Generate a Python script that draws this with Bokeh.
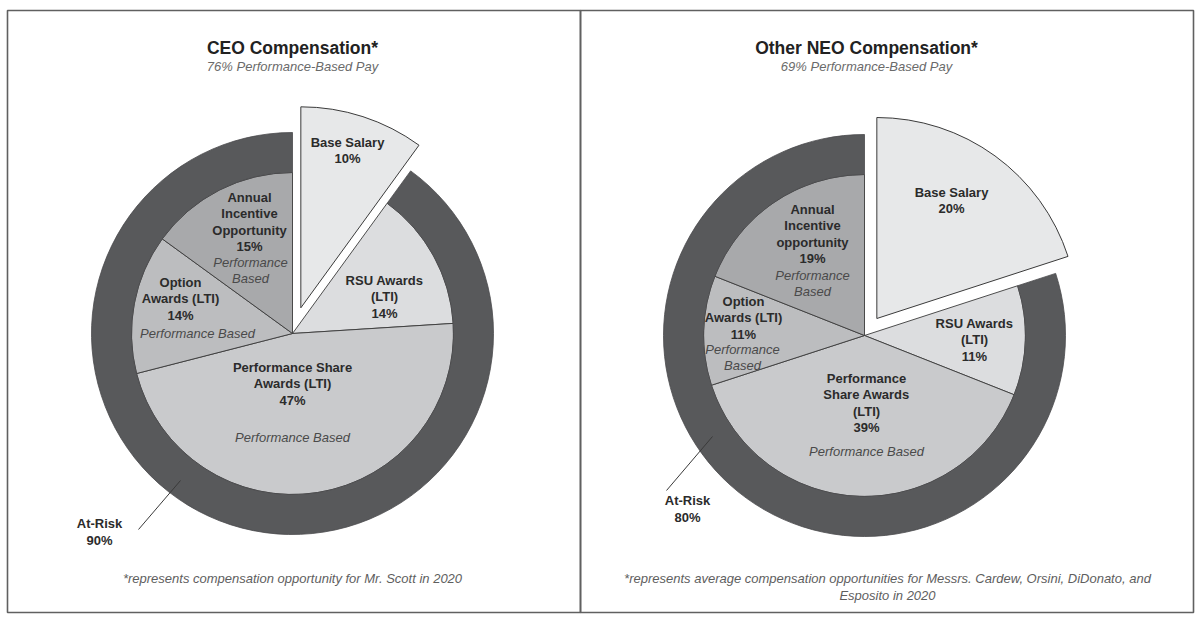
import math
from bokeh.plotting import figure
from bokeh.embed import file_html
from bokeh.resources import INLINE
from bokeh.core.properties import value
from bokeh.models import Range1d

# ---------------- data ----------------
segments = ["Base Salary", "RSU Awards (LTI)", "Performance Share Awards (LTI)",
            "Option Awards (LTI)", "Annual Incentive Opportunity"]
ceo_values = [10, 14, 47, 14, 15]
ceo_at_risk = 90
ceo_perf_based = 76
neo_values = [20, 11, 39, 11, 19]
neo_at_risk = 80
neo_perf_based = 69

ceo_title = "CEO Compensation*"
neo_title = "Other NEO Compensation*"
ceo_note = ["*represents compensation opportunity for Mr. Scott in 2020"]
neo_note = ["*represents average compensation opportunities for Messrs. Cardew, Orsini, DiDonato, and",
            "Esposito in 2020"]

ceo_label_lines = [["Base Salary"], ["RSU Awards", "(LTI)"], ["Performance Share", "Awards (LTI)"],
                   ["Option", "Awards (LTI)"], ["Annual", "Incentive", "Opportunity"]]
ceo_italic_lines = [[], [], ["Performance Based"], ["Performance Based"], ["Performance", "Based"]]
neo_label_lines = [["Base Salary"], ["RSU Awards", "(LTI)"], ["Performance", "Share Awards", "(LTI)"],
                   ["Option", "Awards (LTI)"], ["Annual", "Incentive", "opportunity"]]
neo_italic_lines = [[], [], ["Performance Based"], ["Performance", "Based"], ["Performance", "Based"]]

colors = ["#e7e8e9", "#dcdddf", "#c9cacc", "#bcbdbf", "#a8a9ab"]
ring_color = "#58595b"

# ---------------- layout ----------------
W, H = 1197, 617
FONT = "Liberation Sans"
def sy(y):  # screen y -> data y
    return H - y

p = figure(width=W, height=H, output_backend="svg", toolbar_location=None,
           x_range=Range1d(0, W), y_range=Range1d(0, H), min_border=0)
p.axis.visible = False
p.grid.visible = False
p.outline_line_color = None
p.background_fill_color = "white"
p.border_fill_color = "white"

# panel frames
p.quad(left=[7, 580], right=[580, 1193], top=[sy(10), sy(10)], bottom=[sy(612), sy(612)],
       fill_color=None, line_color="#606060", line_width=1.6)

R_IN, R_OUT = 161, 201
LH = 16.3

def txt(x, y, t, size=13, style="bold", color="#2b2b2b"):
    p.text(x=[x], y=[sy(y)], text=[t], text_font=value(FONT), text_font_size=f"{size}px",
           text_font_style=style, text_color=color, text_align="center", text_baseline="middle")

def draw_pie(cx, cy, vals, at_risk, explode, lines, italics, label_pos):
    cyd = sy(cy)
    cum = 0
    for i, v in enumerate(vals):
        a_end = math.radians(90 - cum * 3.6)
        a_start = math.radians(90 - (cum + v) * 3.6)
        cum += v
        if i == 0:
            mid = (a_start + a_end) / 2
            ox, oy = cx + explode * math.cos(mid), cyd + explode * math.sin(mid)
            p.wedge(x=[ox], y=[oy], radius=R_OUT, start_angle=a_start, end_angle=a_end,
                    fill_color=colors[i], line_color="#3a3a3a", line_width=1.0)
        else:
            p.wedge(x=[cx], y=[cyd], radius=R_IN, start_angle=a_start, end_angle=a_end,
                    fill_color=colors[i], line_color="#3a3a3a", line_width=0.9)
    r_start = math.radians(90 - 360)
    r_end = r_start + math.radians(at_risk * 3.6)
    p.annular_wedge(x=[cx], y=[cyd], inner_radius=R_IN, outer_radius=R_OUT,
                    start_angle=r_start, end_angle=r_end, direction="anticlock",
                    fill_color=ring_color, line_color="#4a4a4c", line_width=0.8)
    for i, v in enumerate(vals):
        x, y, ix, iy = label_pos[i]
        ls = lines[i] + [f"{v}%"]
        for k, t in enumerate(ls):
            txt(x, y + k * LH, t)
        for k, t in enumerate(italics[i]):
            txt(ix, iy + k * LH, t, style="italic", color="#4a4a4a")

def draw_panel(cx, title, perf, notes, note_xy):
    txt(cx, 47, title, size=17.5, color="#222222")
    txt(cx, 66, f"{perf}% Performance-Based Pay", size=13, style="italic", color="#6a6a6a")
    for k, t in enumerate(notes):
        txt(note_xy[0], note_xy[1] + k * 17, t, size=13, style="italic", color="#5e5e5e")

# CEO
ceo_cx, ceo_cy = 292, 333
ceo_pos = [(347, 142, 0, 0), (384, 280, 0, 0), (292, 367, 292, 437),
           (180, 282, 197, 333), (249, 197, 250, 262)]
draw_pie(ceo_cx, ceo_cy, ceo_values, ceo_at_risk, 27, ceo_label_lines, ceo_italic_lines, ceo_pos)
draw_panel(ceo_cx, ceo_title, ceo_perf_based, ceo_note, (292, 578))
txt(99, 523, "At-Risk")
txt(99, 540, f"{ceo_at_risk}%")
p.line(x=[138, 180], y=[sy(529), sy(480)], line_color="#3a3a3a", line_width=1)

# NEO
neo_cx, neo_cy = 864, 335
neo_pos = [(951, 192, 0, 0), (974, 323, 0, 0), (866, 378, 866, 451),
           (743, 301, 742, 349), (812, 209, 812, 275)]
draw_pie(neo_cx, neo_cy, neo_values, neo_at_risk, 21, neo_label_lines, neo_italic_lines, neo_pos)
draw_panel(866, neo_title, neo_perf_based, neo_note, (887, 578))
txt(687, 500, "At-Risk")
txt(687, 517, f"{neo_at_risk}%")
p.line(x=[666, 712], y=[sy(490), sy(436)], line_color="#3a3a3a", line_width=1)

open("out.html", "w").write(file_html(p, INLINE))
